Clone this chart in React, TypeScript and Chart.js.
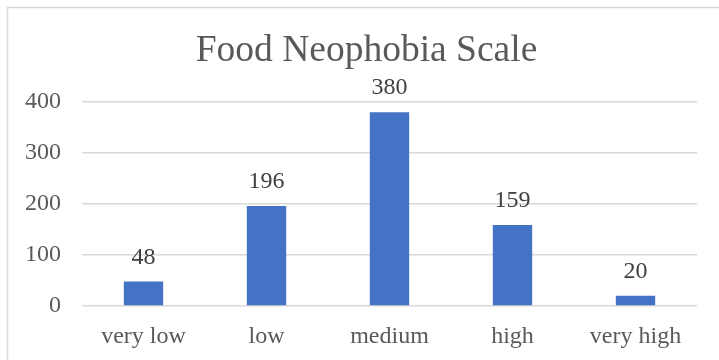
import React, { useEffect, useRef } from "react";
import { Chart, registerables } from "chart.js";

Chart.register(...registerables);

const categories = ["very low", "low", "medium", "high", "very high"];
const counts = [48, 196, 380, 159, 20];
const yTicks = [0, 100, 200, 300, 400];
const chartTitle = "Food Neophobia Scale";

const SERIF = '"Liberation Serif", "Times New Roman", serif';

// Frame, title and value labels drawn straight onto the canvas
const decorPlugin = {
  id: "decor",
  beforeDraw(chart: any) {
    const ctx = chart.ctx;
    ctx.save();
    ctx.fillStyle = "#ffffff";
    ctx.fillRect(0, 0, chart.width, chart.height);
    ctx.strokeStyle = "#d9d9d9";
    ctx.lineWidth = 1.5;
    ctx.strokeRect(7.5, 7.5, chart.width + 40, chart.height + 40);
    ctx.fillStyle = "#595959";
    ctx.font = `37.5px ${SERIF}`;
    ctx.textAlign = "center";
    ctx.textBaseline = "alphabetic";
    ctx.fillText(chartTitle, 366.5, 61);
    ctx.restore();
  },
  afterDatasetsDraw(chart: any) {
    const ctx = chart.ctx;
    const meta = chart.getDatasetMeta(0);
    ctx.save();
    ctx.fillStyle = "#404040";
    ctx.font = `24px ${SERIF}`;
    ctx.textAlign = "center";
    ctx.textBaseline = "alphabetic";
    meta.data.forEach((bar: any, i: number) => {
      ctx.fillText(String(counts[i]), bar.x, bar.y - 18);
    });
    ctx.restore();
  },
};

export default function App() {
  const canvasRef = useRef<HTMLCanvasElement | null>(null);

  useEffect(() => {
    if (!canvasRef.current) return;
    const chart = new Chart(canvasRef.current, {
      type: "bar",
      data: {
        labels: categories,
        datasets: [
          {
            data: counts,
            backgroundColor: "#4472C4",
            borderWidth: 0,
            categoryPercentage: 0.8,
            barPercentage: 0.4,
          },
        ],
      },
      options: {
        responsive: false,
        animation: false,
        layout: { padding: { top: 102, right: 22, left: 0, bottom: 0 } },
        plugins: {
          legend: { display: false },
          title: { display: false },
          tooltip: { enabled: false },
        },
        scales: {
          x: {
            grid: { display: false },
            border: { display: false },
            ticks: {
              color: "#595959",
              font: { family: SERIF, size: 24 },
              padding: 8,
              maxRotation: 0,
            },
            afterFit(scale: any) {
              scale.height = 54;
            },
          },
          y: {
            min: 0,
            max: 400,
            afterBuildTicks(scale: any) {
              scale.ticks = yTicks.map((v) => ({ value: v }));
            },
            grid: { color: "#d9d9d9", lineWidth: 1.5, drawTicks: false },
            border: { display: false },
            ticks: {
              color: "#595959",
              font: { family: SERIF, size: 24 },
              padding: 21,
            },
            afterFit(scale: any) {
              scale.width = 82;
            },
          },
        },
      },
      plugins: [decorPlugin],
    });
    return () => chart.destroy();
  }, []);

  return (
    <div style={{ position: "absolute", left: 0, top: 0, width: 719, height: 360 }}>
      <canvas ref={canvasRef} width={719} height={360} />
    </div>
  );
}
